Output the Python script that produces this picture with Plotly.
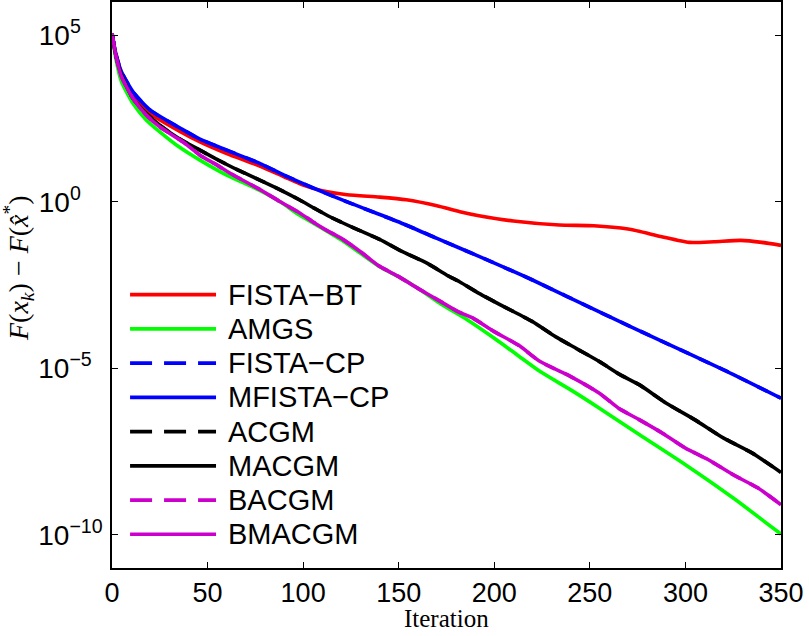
import plotly.graph_objects as go

# ---- data (iteration, log10 of F(x_k)-F(x*)) ----
fista_bt_it = [0, 2, 5, 11, 20, 36, 46, 60, 77, 90, 100, 110, 123, 140, 154, 170, 182, 192, 210, 234, 252, 270, 287, 302, 315, 329, 340, 350]
fista_bt_lg = [5.06, 4.4, 3.85, 3.22, 2.65, 2.1, 1.8, 1.45, 1.08, 0.75, 0.5, 0.33, 0.21, 0.14, 0.06, -0.12, -0.3, -0.42, -0.58, -0.7, -0.72, -0.82, -1.04, -1.22, -1.2, -1.16, -1.22, -1.31]

amgs_it = [0, 2, 5, 11, 18, 25, 35, 46, 60, 77, 88, 98, 110, 120, 130, 140, 150, 160, 172, 186, 200, 212, 224, 240, 255, 276, 300, 325, 350]
amgs_lg = [5.06, 4.3, 3.6, 2.95, 2.45, 2.1, 1.65, 1.25, 0.8, 0.35, 0.0, -0.4, -0.8, -1.15, -1.55, -1.95, -2.25, -2.6, -3.07, -3.55, -4.1, -4.6, -5.1, -5.65, -6.2, -7.0, -7.9, -8.9, -9.98]

mfista_it = [0, 2, 5, 11, 20, 36, 46, 60, 77, 90, 105, 125, 151, 170, 192, 220, 255, 287, 320, 350]
mfista_lg = [5.06, 4.45, 3.9, 3.3, 2.75, 2.2, 1.88, 1.55, 1.16, 0.8, 0.42, -0.05, -0.63, -1.1, -1.64, -2.35, -3.31, -4.17, -5.05, -5.9]
fista_cp_it = mfista_it
fista_cp_lg = mfista_lg

macgm_it = [0, 2, 5, 11, 18, 25, 35, 46, 55, 66, 77, 88, 98, 106, 114, 127, 140, 152, 165, 175, 182, 192, 205, 220, 232, 243, 255, 266, 276, 290, 305, 320, 335, 350]
macgm_lg = [5.06, 4.4, 3.8, 3.1, 2.65, 2.3, 1.9, 1.55, 1.27, 0.95, 0.66, 0.36, 0.06, -0.2, -0.45, -0.8, -1.13, -1.5, -1.85, -2.2, -2.41, -2.75, -3.15, -3.6, -4.05, -4.41, -4.8, -5.2, -5.5, -6.05, -6.55, -7.1, -7.55, -8.13]
acgm_it = macgm_it
acgm_lg = macgm_lg

bmacgm_it = [0, 2, 5, 11, 18, 25, 37, 46, 55, 62, 77, 88, 98, 105, 112, 120, 130, 140, 150, 160, 172, 181, 189, 200, 213, 224, 240, 255, 265, 276, 288, 300, 312, 325, 338, 350]
bmacgm_lg = [5.06, 4.4, 3.75, 3.1, 2.6, 2.25, 1.8, 1.4, 1.1, 0.85, 0.38, 0.0, -0.33, -0.6, -0.85, -1.1, -1.5, -1.94, -2.25, -2.6, -3.0, -3.3, -3.5, -3.9, -4.32, -4.8, -5.25, -5.75, -6.2, -6.55, -6.95, -7.4, -7.75, -8.2, -8.6, -9.1]
bacgm_it = bmacgm_it
bacgm_lg = bmacgm_lg

x_ticks = [0, 50, 100, 150, 200, 250, 300, 350]
y_tick_vals = [1e-10, 1e-5, 1e0, 1e5]
y_tick_text = ["10<sup>\u221210</sup>",
               "10<sup>\u22125&nbsp;&nbsp;</sup>",
               "10<sup>0&nbsp;&nbsp;&nbsp;&nbsp;</sup>",
               "10<sup>5&nbsp;&nbsp;&nbsp;&nbsp;</sup>"]

series = [
    ("FISTA\u2212BT", fista_bt_it, fista_bt_lg, "#ff0000", "solid"),
    ("AMGS", amgs_it, amgs_lg, "#00ff00", "solid"),
    ("FISTA\u2212CP", fista_cp_it, fista_cp_lg, "#0000ff", "dash"),
    ("MFISTA\u2212CP", mfista_it, mfista_lg, "#0000ff", "solid"),
    ("ACGM", acgm_it, acgm_lg, "#000000", "dash"),
    ("MACGM", macgm_it, macgm_lg, "#000000", "solid"),
    ("BACGM", bacgm_it, bacgm_lg, "#cc00cc", "dash"),
    ("BMACGM", bmacgm_it, bmacgm_lg, "#cc00cc", "solid"),
]

fig = go.Figure()
for name, xs, lg, col, dash in series:
    fig.add_trace(go.Scatter(
        x=xs, y=[10 ** v for v in lg], name=name, mode="lines", showlegend=False,
        line=dict(color=col, width=3.6, dash=dash, shape="spline", smoothing=0.6),
    ))

# legend drawn in the lower-left part of the axes (paper coords)
leg_x0, leg_x1, leg_tx = 0.027, 0.1555, 0.1704
leg_top, leg_step = 0.483, 0.0605
for i, (name, xs, lg, col, dash) in enumerate(series):
    yy = leg_top - i * leg_step
    fig.add_shape(type="line", xref="paper", yref="paper", x0=leg_x0, x1=leg_x1, y0=yy, y1=yy,
                  line=dict(color=col, width=3.6, dash="22px,12px" if dash == "dash" else "solid"))
    fig.add_annotation(xref="paper", yref="paper", x=leg_tx, y=yy, text=name, showarrow=False,
                       xanchor="left", yanchor="middle",
                       font=dict(family="Liberation Sans, Arial", size=29, color="black"))

# axis titles
fig.add_annotation(xref="paper", yref="paper", x=0.5, y=-0.0901, text="Iteration", showarrow=False,
                   xanchor="center", yanchor="middle", borderpad=0,
                   font=dict(family="Liberation Serif, Times New Roman", size=25, color="black"))
fig.add_annotation(xref="paper", yref="paper", x=-0.1405, y=0.53, textangle=-90,
                   text="<i>F</i>(<i>x<sub>k</sub></i>) \u2212 <i>F</i>(<i>x\u0302</i><sup>*</sup>)",
                   showarrow=False, xanchor="center", yanchor="middle",
                   font=dict(family="Liberation Serif, Times New Roman", size=28, color="black"))

axis_common = dict(
    showline=True, linecolor="black", linewidth=1.5, mirror="ticks",
    ticks="inside", ticklen=6, tickcolor="black", tickwidth=1,
    showgrid=False, zeroline=False, automargin=False,
)

fig.update_xaxes(range=[0, 350], tickvals=x_ticks, ticklabelstandoff=0,
                 tickfont=dict(family="Liberation Sans, Arial", size=27, color="black"),
                 **axis_common)
fig.update_yaxes(type="log", range=[-11, 6], tickvals=y_tick_vals, ticktext=y_tick_text,
                 ticklabelstandoff=2,
                 tickfont=dict(family="Liberation Sans, Arial", size=28, color="black"),
                 **axis_common)

fig.update_layout(
    width=809, height=636,
    margin=dict(l=112, r=28, t=2, b=68),
    paper_bgcolor="white", plot_bgcolor="white",
    showlegend=False,
)

fig.write_html("out.html")
